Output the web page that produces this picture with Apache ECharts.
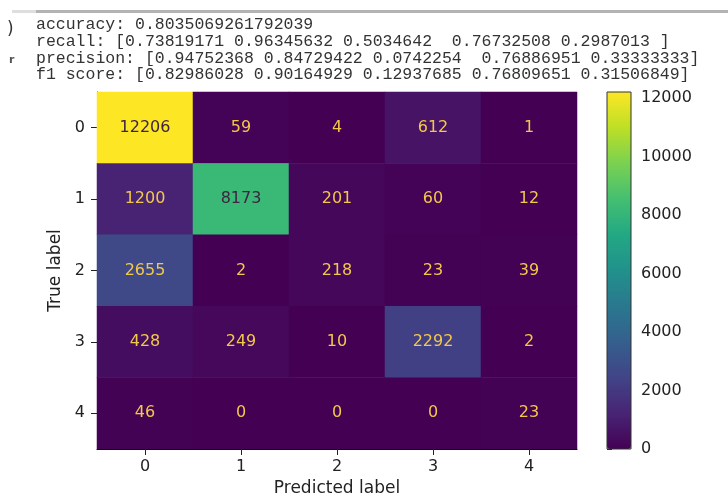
<!DOCTYPE html>
<html>
<head>
<meta charset="utf-8">
<script src="https://cdn.jsdelivr.net/npm/echarts@6/dist/echarts.min.js"></script>
<style>
html,body{margin:0;padding:0;background:#fff;}
#chart{width:728px;height:495px;}
</style>
</head>
<body>
<div id="chart"></div>
<script>
// ---- data ----
var predictedLabels = ['0', '1', '2', '3', '4'];
var trueLabels = ['0', '1', '2', '3', '4'];
var row0 = [12206, 59, 4, 612, 1];
var row1 = [1200, 8173, 201, 60, 12];
var row2 = [2655, 2, 218, 23, 39];
var row3 = [428, 249, 10, 2292, 2];
var row4 = [46, 0, 0, 0, 23];
var colorbarTicks = [0, 2000, 4000, 6000, 8000, 10000, 12000];
var textLines = [
  'accuracy: 0.8035069261792039',
  'recall: [0.73819171 0.96345632 0.5034642  0.76732508 0.2987013 ]',
  'precision: [0.94752368 0.84729422 0.0742254  0.76886951 0.33333333]',
  'f1 score: [0.82986028 0.90164929 0.12937685 0.76809651 0.31506849]'
];

var matrix = [row0, row1, row2, row3, row4];
var viridis = ['#440154','#482475','#414487','#355f8d','#2a788e','#21918c','#22a884','#44bf70','#7ad151','#bddf26','#fde725'];
var vmin = 0, vmax = 0;
matrix.forEach(function (r) { r.forEach(function (v) { if (v > vmax) vmax = v; }); });
var thresh = (vmin + vmax) / 2;

var heatData = [];
matrix.forEach(function (r, yi) {
  r.forEach(function (v, xi) {
    heatData.push({
      value: [xi, yi, v],
      label: { color: v >= thresh ? '#3d2440' : '#f2c84a' }
    });
  });
});

var graphics = [
  { type: 'rect', shape: { x: 12, y: 10, width: 24, height: 3 }, style: { fill: '#dedede' }, silent: true },
  { type: 'rect', shape: { x: 36, y: 10, width: 692, height: 3 }, style: { fill: '#b3b3b3' }, silent: true },
  { type: 'text', x: 7, y: 30, style: { text: ')', font: '17px "DejaVu Sans"', fill: '#333', verticalAlign: 'middle' } },
  { type: 'text', x: 9, y: 60, style: { text: 'r', font: 'bold 11px "DejaVu Sans"', fill: '#555', verticalAlign: 'middle' } },
  // colorbar outline
  { type: 'rect', z: 100, shape: { x: 607, y: 92, width: 24, height: 357 }, style: { fill: 'none', stroke: '#333', lineWidth: 1 }, silent: true }
];
var lineY = [25, 42, 58.5, 75];
textLines.forEach(function (t, i) {
  graphics.push({
    type: 'text', x: 36, y: lineY[i],
    style: { text: t, font: '16.5px "Liberation Mono"', fill: '#333', verticalAlign: 'middle' }
  });
});

var chart = echarts.init(document.getElementById('chart'), null, { renderer: 'canvas' });
chart.setOption({
  backgroundColor: '#fff',
  animation: false,
  textStyle: { fontFamily: 'DejaVu Sans' },
  graphic: graphics,
  grid: [
    { left: 97, top: 92, width: 480, height: 357, containLabel: false, outerBoundsMode: 'none' },
    { left: 607, top: 92, width: 24, height: 357, containLabel: false, outerBoundsMode: 'none' }
  ],
  xAxis: [
    {
      type: 'category', gridIndex: 0, data: predictedLabels, position: 'bottom',
      name: 'Predicted label', nameLocation: 'middle', nameGap: 28,
      nameTextStyle: { fontSize: 17, color: '#222' },
      axisLine: { show: true, lineStyle: { color: '#000', width: 1 } },
      axisTick: { show: true, alignWithLabel: true, length: 6, lineStyle: { color: '#222' } },
      axisLabel: { fontSize: 16, color: '#222', margin: 10 },
      splitLine: { show: false }
    },
    { type: 'value', gridIndex: 1, show: false, min: 0, max: 1 }
  ],
  yAxis: [
    {
      type: 'category', gridIndex: 0, data: trueLabels, inverse: true,
      name: 'True label', nameLocation: 'middle', nameGap: 33, nameRotate: 90,
      nameTextStyle: { fontSize: 17, color: '#222' },
      axisLine: { show: true, lineStyle: { color: '#000', width: 1 } },
      axisTick: { show: true, alignWithLabel: true, length: 6, lineStyle: { color: '#222' } },
      axisLabel: { fontSize: 16, color: '#222', margin: 12 },
      splitLine: { show: false }
    },
    {
      type: 'value', gridIndex: 1, position: 'right', min: 0, max: vmax, interval: 2000,
      axisLine: { show: false },
      axisTick: { show: true, length: 5, lineStyle: { color: '#222' } },
      axisLabel: { fontSize: 16, color: '#222', margin: 10, showMaxLabel: false,
        formatter: function (v) { return colorbarTicks.indexOf(v) >= 0 ? String(v) : ''; } },
      splitLine: { show: false }
    }
  ],
  visualMap: {
    type: 'continuous', min: vmin, max: vmax, seriesIndex: 0,
    calculable: false, realtime: false, orient: 'vertical',
    left: 607, top: 92, itemWidth: 24, itemHeight: 357, padding: 0,
    showLabel: false, text: null,
    inRange: { color: viridis }
  },
  series: [
    {
      type: 'heatmap', xAxisIndex: 0, yAxisIndex: 0, data: heatData,
      label: { show: true, fontSize: 16, fontFamily: 'DejaVu Sans', formatter: function (p) { return p.value[2]; } },
      emphasis: { disabled: true },
      itemStyle: { borderWidth: 0 }
    },
    { type: 'scatter', xAxisIndex: 1, yAxisIndex: 1, data: [], silent: true }
  ]
});
</script>
</body>
</html>
